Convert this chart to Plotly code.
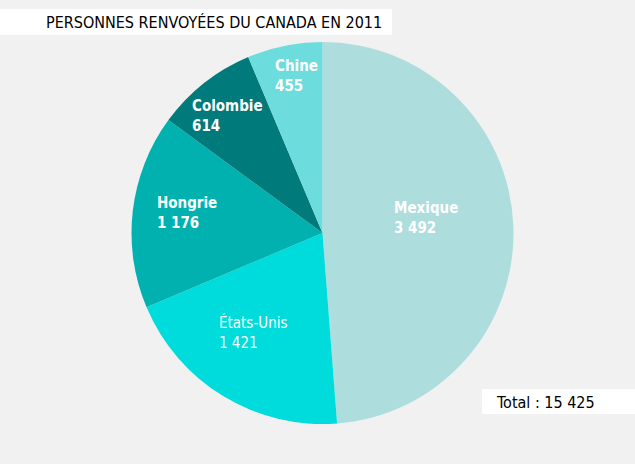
import plotly.graph_objects as go

# Donnees
pays = ['Mexique', 'États-Unis', 'Hongrie', 'Colombie', 'Chine']
renvois = [3492, 1421, 1176, 614, 455]
etiquettes_valeurs = ['3 492', '1 421', '1 176', '614', '455']
titre = 'PERSONNES RENVOYÉES DU CANADA EN 2011'
total_txt = 'Total : 15 425'

# Couleurs
COULEURS = ['#addddd', '#00dcdc', '#00b1b0', '#007a7a', '#6ddcdc']
FOND = '#f1f1f1'
POLICE = 'DejaVu Sans Condensed, Liberation Sans Narrow, sans-serif'

W, H = 635, 464

# position des etiquettes (pixels, coin gauche / milieu du bloc) et graisse
pos_etiq = [(392, 218), (217, 332), (155, 213), (190, 116), (273, 76)]
gras = [True, False, True, True, True]

fig = go.Figure()

fig.add_trace(go.Pie(
    labels=pays,
    values=renvois,
    sort=False,
    direction='clockwise',
    rotation=0,
    marker=dict(colors=COULEURS, line=dict(width=0)),
    textinfo='none',
    hoverinfo='label+value',
    showlegend=False,
    domain=dict(x=[131.5 / W, 513.5 / W], y=[1 - 424 / H, 1 - 42 / H]),
))

# etiquettes des parts
for nom, val, (px, py), b in zip(pays, etiquettes_valeurs, pos_etiq, gras):
    txt = f'{nom}<br>{val}'
    if b:
        txt = f'<b>{txt}</b>'
    fig.add_annotation(
        x=px / W, y=1 - py / H, xref='paper', yref='paper',
        text=txt,
        showarrow=False, xanchor='left', yanchor='middle', align='left',
        font=dict(color='white', size=15, family=POLICE),
    )

# cadre du titre
fig.add_shape(type='rect', xref='paper', yref='paper',
              x0=0, x1=392 / W, y0=1 - 35 / H, y1=1 - 9 / H,
              fillcolor='white', line=dict(width=0), layer='below')
fig.add_annotation(x=384 / W, y=1 - 22 / H, xref='paper', yref='paper',
                   text=titre, showarrow=False, xanchor='right', yanchor='middle',
                   font=dict(color='black', size=16, family=POLICE))

# cadre du total
fig.add_shape(type='rect', xref='paper', yref='paper',
              x0=482 / W, x1=1, y0=1 - 414 / H, y1=1 - 389 / H,
              fillcolor='white', line=dict(width=0), layer='below')
fig.add_annotation(x=494 / W, y=1 - 402 / H, xref='paper', yref='paper',
                   text=total_txt, showarrow=False, xanchor='left', yanchor='middle',
                   font=dict(color='black', size=16, family=POLICE))

fig.update_layout(
    width=W, height=H,
    margin=dict(l=0, r=0, t=0, b=0),
    paper_bgcolor=FOND,
    plot_bgcolor=FOND,
)

fig.write_html('out.html', config={'displayModeBar': False},
               post_script="document.body.style.margin='0';")
